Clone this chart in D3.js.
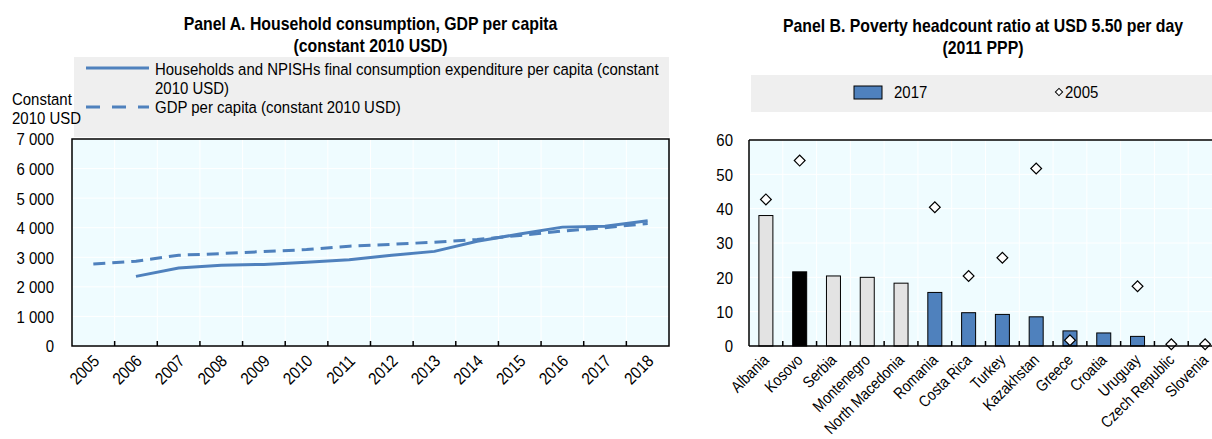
<!DOCTYPE html>
<html><head><meta charset="utf-8">
<script src="https://cdn.jsdelivr.net/npm/d3@7"></script>
<style>
body{margin:0;background:#fff;}
svg{display:block;font-family:"Liberation Sans","Arial",sans-serif;}
</style></head>
<body>
<svg id="chart" width="1212" height="439"></svg>
<script>
// ---------- DATA ----------
const years = ["2005","2006","2007","2008","2009","2010","2011","2012","2013","2014","2015","2016","2017","2018"];
const consumption = [null,2355,2640,2730,2760,2830,2920,3070,3200,3540,3790,4020,4050,4235];
const gdpPerCapita = [2775,2865,3070,3125,3195,3260,3375,3440,3510,3600,3740,3885,4000,4145];
const yTicksA = [0,1000,2000,3000,4000,5000,6000,7000];

const countries = ["Albania","Kosovo","Serbia","Montenegro","North Macedonia","Romania","Costa Rica","Turkey","Kazakhstan","Greece","Croatia","Uruguay","Czech Republic","Slovenia"];
const poverty2017 = [38.0,21.6,20.4,20.0,18.3,15.6,9.7,9.2,8.5,4.4,3.8,2.8,null,null];
const poverty2005 = [42.7,54.0,null,null,null,40.4,20.4,25.7,51.7,1.7,null,17.4,0.5,0.5];
const yTicksB = [0,10,20,30,40,50,60];
const highlight = "Kosovo";
const peers = ["Albania","Serbia","Montenegro","North Macedonia"];

const titleA = ["Panel A. Household consumption, GDP per capita","(constant 2010 USD)"];
const titleB = ["Panel B. Poverty headcount ratio at USD 5.50 per day","(2011 PPP)"];
const legendA = [["Households and NPISHs final consumption expenditure per capita (constant","2010 USD)"],["GDP per capita (constant 2010 USD)"]];
const legendB = ["2017","2005"];
const yTitleA = ["Constant","2010 USD"];

// ---------- STYLE ----------
const BLUE = "#4f81bd", GRAYBAR = "#e3e3e3", PLOTBG = "#effcff", LEGBG = "#efefef";
const FS = 17, SX = 0.88;   // condensed look (narrow face emulated by horizontal scale)
const svg = d3.select("#chart");
const fmt = d3.formatLocale({decimal:".",thousands:" ",grouping:[3],currency:["",""]}).format(",d");

function txt(parent, x, y, s, opts={}) {
  const t = parent.append("text")
    .attr("transform", `translate(${x},${y}) scale(${opts.sx||SX},1)`)
    .attr("font-size", opts.fs||FS)
    .attr("text-anchor", opts.anchor||"start")
    .text(s);
  if (opts.bold) t.attr("font-weight","bold");
  return t;
}

// ---------- PANEL A ----------
const A = {l:72, r:669, t:139, b:346};
const xA = d3.scaleBand().domain(years).range([A.l, A.r]);
const yA = d3.scaleLinear().domain([0,7000]).range([A.b, A.t]);

titleA.forEach((t,i)=>txt(svg,(A.l+A.r)/2,30+i*22,t,{fs:18,bold:true,anchor:"middle"}));

svg.append("rect").attr("x",74).attr("y",57).attr("width",A.r-74).attr("height",80).attr("fill",LEGBG);
svg.append("line").attr("x1",86).attr("x2",149).attr("y1",68).attr("y2",68).attr("stroke",BLUE).attr("stroke-width",3);
svg.append("line").attr("x1",86).attr("x2",149).attr("y1",107).attr("y2",107).attr("stroke",BLUE).attr("stroke-width",3).attr("stroke-dasharray","14,12");
legendA[0].forEach((t,i)=>txt(svg,155,75+i*19,t));
txt(svg,155,113,legendA[1][0]);

yTitleA.forEach((t,i)=>txt(svg,12,105+i*19,t));

svg.append("rect").attr("x",A.l).attr("y",A.t).attr("width",A.r-A.l).attr("height",A.b-A.t).attr("fill",PLOTBG);
svg.append("g").selectAll("line").data(yTicksA).join("line")
  .attr("x1",A.l).attr("x2",A.r).attr("y1",d=>yA(d)).attr("y2",d=>yA(d)).attr("stroke","#fff").attr("stroke-width",1);
svg.append("g").selectAll("line").data(years.slice(1)).join("line")
  .attr("x1",d=>xA(d)).attr("x2",d=>xA(d)).attr("y1",A.t).attr("y2",A.b).attr("stroke","#fff").attr("stroke-width",1);

// y axis A labels
const gA = svg.append("g").attr("transform",`translate(${A.l},0)`)
  .call(d3.axisLeft(yA).tickValues(yTicksA).tickFormat(fmt).tickSize(0));
gA.select(".domain").remove();
gA.selectAll("text").attr("font-size",FS).attr("fill","#000").attr("x",0).attr("dy","0.35em")
  .attr("transform",`translate(-18,0) scale(${SX},1)`);
gA.attr("font-family",null);

// x axis A
const gxA = svg.append("g").attr("transform",`translate(0,${A.b})`)
  .call(d3.axisBottom(xA).tickSize(0));
gxA.select(".domain").remove();
gxA.attr("font-family",null);
gxA.selectAll("text").attr("font-size",FS).attr("fill","#000")
  .attr("text-anchor","end").attr("dy",null).attr("y",0).attr("x",0)
  .attr("transform",`translate(7,16) rotate(-45) scale(${SX},1)`);
svg.append("g").selectAll("line").data(years.slice(1)).join("line")
  .attr("x1",d=>xA(d)).attr("x2",d=>xA(d)).attr("y1",A.b).attr("y2",A.b-5).attr("stroke","#000").attr("stroke-width",1.5);

// lines
const lineA = d3.line().defined(d=>d[1]!=null).x(d=>xA(d[0])+xA.bandwidth()/2).y(d=>yA(d[1]));
svg.append("path").datum(years.map((y,i)=>[y,gdpPerCapita[i]])).attr("d",lineA)
  .attr("fill","none").attr("stroke",BLUE).attr("stroke-width",3).attr("stroke-dasharray","12,7");
svg.append("path").datum(years.map((y,i)=>[y,consumption[i]])).attr("d",lineA)
  .attr("fill","none").attr("stroke",BLUE).attr("stroke-width",3);

svg.append("rect").attr("x",A.l).attr("y",A.t).attr("width",A.r-A.l).attr("height",A.b-A.t)
  .attr("fill","none").attr("stroke","#000").attr("stroke-width",1.5);

// ---------- PANEL B ----------
const B = {l:749, r:1222, t:140, b:346};
const xB = d3.scaleBand().domain(countries).range([B.l, B.r]);
const yB = d3.scaleLinear().domain([0,60]).range([B.b, B.t]);

titleB.forEach((t,i)=>txt(svg,983,32+i*22,t,{fs:18,bold:true,anchor:"middle"}));

svg.append("rect").attr("x",751).attr("y",75).attr("width",1212-751).attr("height",37).attr("fill",LEGBG);
svg.append("rect").attr("x",854).attr("y",86).attr("width",28).attr("height",13).attr("fill",BLUE).attr("stroke","#000").attr("stroke-width",1);
txt(svg,894,98,legendB[0]);
svg.append("path").attr("d",d3.symbol(d3.symbolSquare,26)()).attr("transform","translate(1059,92) rotate(45)")
  .attr("fill","#fff").attr("stroke","#000").attr("stroke-width",1);
txt(svg,1065,98,legendB[1]);

svg.append("rect").attr("x",B.l).attr("y",B.t).attr("width",B.r-B.l).attr("height",B.b-B.t).attr("fill",PLOTBG);
svg.append("g").selectAll("line").data(yTicksB).join("line")
  .attr("x1",B.l).attr("x2",B.r).attr("y1",d=>yB(d)).attr("y2",d=>yB(d)).attr("stroke","#fff").attr("stroke-width",1);
svg.append("g").selectAll("line").data(countries.slice(1)).join("line")
  .attr("x1",d=>xB(d)).attr("x2",d=>xB(d)).attr("y1",B.t).attr("y2",B.b).attr("stroke","#fff").attr("stroke-width",1);

const gB = svg.append("g").attr("transform",`translate(${B.l},0)`)
  .call(d3.axisLeft(yB).tickValues(yTicksB).tickSize(0));
gB.select(".domain").remove();
gB.attr("font-family",null);
gB.selectAll("text").attr("font-size",FS).attr("fill","#000").attr("x",0).attr("dy","0.35em")
  .attr("transform",`translate(-16,0) scale(${SX},1)`);

const barW = 14;
svg.append("g").selectAll("rect").data(countries.map((c,i)=>({c,v:poverty2017[i]})).filter(d=>d.v!=null)).join("rect")
  .attr("x",d=>xB(d.c)+xB.bandwidth()/2-barW/2).attr("width",barW)
  .attr("y",d=>yB(d.v)).attr("height",d=>yB(0)-yB(d.v))
  .attr("fill",d=>d.c===highlight?"#000":(peers.includes(d.c)?GRAYBAR:BLUE))
  .attr("stroke","#000").attr("stroke-width",1);

svg.append("g").selectAll("line").data(countries.slice(1)).join("line")
  .attr("x1",d=>xB(d)).attr("x2",d=>xB(d)).attr("y1",B.b).attr("y2",B.b-5).attr("stroke","#000").attr("stroke-width",1.5);

svg.append("g").selectAll("path").data(countries.map((c,i)=>({c,v:poverty2005[i]})).filter(d=>d.v!=null)).join("path")
  .attr("d",d3.symbol(d3.symbolSquare,58)())
  .attr("transform",d=>`translate(${xB(d.c)+xB.bandwidth()/2},${yB(d.v)}) rotate(45)`)
  .attr("fill","#fff").attr("stroke","#000").attr("stroke-width",1.2);

const gxB = svg.append("g").attr("transform",`translate(0,${B.b})`)
  .call(d3.axisBottom(xB).tickSize(0));
gxB.select(".domain").remove();
gxB.attr("font-family",null);
gxB.selectAll("text").attr("font-size",16).attr("fill","#000")
  .attr("text-anchor","end").attr("dy",null).attr("y",0).attr("x",0)
  .attr("transform",`translate(4,15) rotate(-45) scale(0.86,1)`);

svg.append("line").attr("x1",B.l).attr("x2",B.r).attr("y1",B.t).attr("y2",B.t).attr("stroke","#000").attr("stroke-width",1.5);
svg.append("line").attr("x1",B.l).attr("x2",B.r).attr("y1",B.b).attr("y2",B.b).attr("stroke","#000").attr("stroke-width",1.5);
svg.append("line").attr("x1",B.l).attr("x2",B.l).attr("y1",B.t).attr("y2",B.b).attr("stroke","#000").attr("stroke-width",1.5);
</script>
</body></html>
